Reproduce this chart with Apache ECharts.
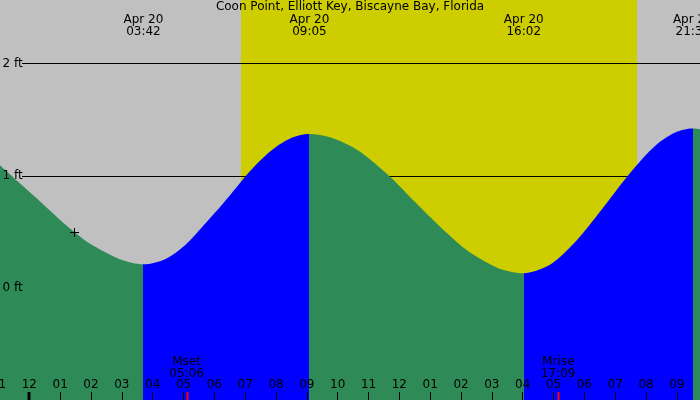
<!DOCTYPE html>
<html><head><meta charset="utf-8">
<script src="https://cdn.jsdelivr.net/npm/echarts@6/dist/echarts.min.js"></script>
<style>html,body{margin:0;padding:0;background:#c0c0c0}#c{width:700px;height:400px}</style>
</head><body><div id="c"></div>
<script>
// ---- data ----
const titleText = 'Coon Point, Elliott Key, Biscayne Bay, Florida';
// hours after Apr 20 00:00, tide height in feet
const tideHours = [-1.00, -0.30, 0.35, 1.00, 1.45, 1.97, 2.94, 3.70, 4.40, 5.05, 5.70, 6.51, 7.16, 7.81, 8.46, 9.083,
  9.75, 10.40, 10.89, 11.70, 12.51, 13.32, 14.13, 14.62, 15.27, 16.033, 16.79, 17.31, 17.86, 18.67, 19.49, 20.30, 20.94, 21.517, 21.75];
const tideFeet = [1.105, 0.93, 0.77, 0.605, 0.50, 0.392, 0.255, 0.21, 0.255, 0.38, 0.57, 0.825, 1.04, 1.215, 1.33, 1.37,
  1.342, 1.265, 1.18, 0.99, 0.764, 0.545, 0.348, 0.258, 0.168, 0.13, 0.192, 0.30, 0.457, 0.736, 1.025, 1.265, 1.383, 1.42, 1.414];
const extremeDates = ['Apr 20', 'Apr 20', 'Apr 20', 'Apr 20'];
const extremeTimes = ['03:42', '09:05', '16:02', '21:31'];
const extremeKinds = ['low', 'high', 'low', 'high'];
const daylightTimes = ['06:52', '19:43'];
const moonNames = ['Mset', 'Mrise'];
const moonTimes = ['05:06', '17:09'];
const midnightTimes = ['00:00'];
const nowTimes = ['01:27'];
const nowFeet = [0.50];
const gridLevels = [1, 2];

// ---- helpers ----
const toH = t => { const [h, m] = t.split(':').map(Number); return h + m / 60; };
const FONT = 'DejaVu Sans';
const COL_FALL = '#2e8b57', COL_RISE = '#0000ff', COL_DAY = '#cdcd00', COL_NIGHT = '#c0c0c0';

const tideData = tideHours.map((h, i) => [h, tideFeet[i]]);
const extH = extremeTimes.map(toH);
const pieces = [];
extH.forEach((b, i) => {
  const col = extremeKinds[i] === 'low' ? COL_FALL : COL_RISE;
  if (i === 0) pieces.push({ lt: b, color: col });
  else pieces.push({ gte: extH[i - 1], lt: b, color: col });
});
pieces.push({ gte: extH[extH.length - 1], color: extremeKinds[extremeKinds.length - 1] === 'high' ? COL_FALL : COL_RISE });

const hourLabel = v => {
  if (Math.abs(v - Math.round(v)) > 1e-6) return '';
  let h = ((Math.round(v) % 12) + 12) % 12; if (h === 0) h = 12;
  return String(h).padStart(2, '0');
};

const chart = echarts.init(document.getElementById('c'), null, { renderer: 'canvas' });
chart.setOption({
  animation: false,
  backgroundColor: COL_NIGHT,
  textStyle: { fontFamily: FONT },
  title: { text: titleText, left: 'center', top: 0, padding: 0,
    textStyle: { fontFamily: FONT, fontSize: 12, fontWeight: 'normal', color: '#000', lineHeight: 14 } },
  grid: { left: -1.5, right: 0, top: 0, bottom: 0, containLabel: false, outerBoundsMode: 'none' },
  xAxis: {
    type: 'value', min: -1, max: 21.75, interval: 1, z: 10, position: 'bottom',
    axisLine: { show: false, onZero: false }, splitLine: { show: false },
    axisTick: { show: true, inside: true, length: 8, lineStyle: { color: '#000', width: 1 } },
    axisLabel: { inside: true, margin: 9, color: '#000', fontSize: 12, fontFamily: FONT, formatter: hourLabel,
      showMinLabel: true, showMaxLabel: true, hideOverlap: false }
  },
  yAxis: {
    type: 'value', min: -1, max: 2.565, interval: 1, z: 10,
    axisLine: { show: false, onZero: false }, axisTick: { show: false }, splitLine: { show: false },
    axisLabel: { inside: true, margin: 4, color: '#000', fontSize: 12, fontFamily: FONT,
      formatter: v => (Math.abs(v - Math.round(v)) < 1e-6 && v >= 0) ? Math.round(v) + ' ft' : '' }
  },
  visualMap: { type: 'piecewise', show: false, dimension: 0, seriesIndex: 2, pieces: pieces },
  series: [
    { // daylight band
      type: 'custom', z: 0, silent: true,
      data: [[toH(daylightTimes[0]), toH(daylightTimes[1])]],
      renderItem: (params, api) => {
        const cs = params.coordSys;
        const x1 = api.coord([api.value(0), 0])[0], x2 = api.coord([api.value(1), 0])[0];
        return { type: 'rect', shape: { x: Math.round(x1), y: cs.y, width: Math.round(x2) - Math.round(x1), height: cs.height },
          style: { fill: COL_DAY } };
      }
    },
    { // level lines
      type: 'custom', z: 1, silent: true,
      data: gridLevels.map(v => [0, v]),
      renderItem: (params, api) => {
        const cs = params.coordSys;
        const y = Math.round(api.coord([0, api.value(1)])[1]) + 0.5;
        return { type: 'line', shape: { x1: 22, y1: y, x2: cs.x + cs.width, y2: y },
          style: { stroke: '#000', lineWidth: 1 } };
      }
    },
    { // tide curve
      type: 'line', z: 2, data: tideData, showSymbol: false, symbol: 'none',
      smooth: 0.3,
      lineStyle: { width: 0 },
      areaStyle: { opacity: 1, origin: 'start' }
    },
    { // midnight tick
      type: 'custom', z: 11, silent: true,
      data: midnightTimes.map(t => [toH(t)]),
      renderItem: (params, api) => {
        const cs = params.coordSys;
        const x = api.coord([api.value(0), 0])[0];
        return { type: 'rect', shape: { x: Math.round(x) - 1.5, y: cs.y + cs.height - 8, width: 3, height: 8 }, style: { fill: '#000' } };
      }
    },
    { // moon events
      type: 'custom', z: 11, silent: true,
      data: moonTimes.map((t, i) => [toH(t), moonNames[i], t]),
      renderItem: (params, api) => {
        const cs = params.coordSys;
        const i = params.dataIndex;
        const x = api.coord([api.value(0), 0])[0];
        const bottom = cs.y + cs.height;
        return { type: 'group', children: [
          { type: 'rect', shape: { x: Math.round(x) - 0.5, y: bottom - 8, width: 2, height: 8 }, style: { fill: '#ff0000' } },
          { type: 'text', x: x, y: 361.5, style: { text: moonNames[i], align: 'center', verticalAlign: 'middle', fontSize: 12, fontFamily: FONT, fill: '#000' } },
          { type: 'text', x: x, y: 373.5, style: { text: moonTimes[i], align: 'center', verticalAlign: 'middle', fontSize: 12, fontFamily: FONT, fill: '#000' } }
        ] };
      }
    },
    { // high/low labels at top
      type: 'custom', z: 11, silent: true,
      data: extremeTimes.map((t, i) => [toH(t), i]),
      renderItem: (params, api) => {
        const i = params.dataIndex;
        const x = api.coord([api.value(0), 0])[0];
        return { type: 'group', children: [
          { type: 'text', x: x, y: 19.5, style: { text: extremeDates[i], align: 'center', verticalAlign: 'middle', fontSize: 12, fontFamily: FONT, fill: '#000' } },
          { type: 'text', x: x, y: 31.5, style: { text: extremeTimes[i], align: 'center', verticalAlign: 'middle', fontSize: 12, fontFamily: FONT, fill: '#000' } }
        ] };
      }
    },
    { // current-time marker
      type: 'custom', z: 11, silent: true,
      data: nowTimes.map((t, i) => [toH(t), nowFeet[i]]),
      renderItem: (params, api) => {
        const p = api.coord([api.value(0), api.value(1)]);
        const cx = Math.round(p[0]) + 0.5, cy = Math.round(p[1]) + 0.5;
        return { type: 'group', children: [
          { type: 'line', shape: { x1: cx - 4.5, y1: cy, x2: cx + 4.5, y2: cy }, style: { stroke: '#000', lineWidth: 1 } },
          { type: 'line', shape: { x1: cx, y1: cy - 4.5, x2: cx, y2: cy + 4.5 }, style: { stroke: '#000', lineWidth: 1 } }
        ] };
      }
    }
  ]
});
</script>
</body></html>
